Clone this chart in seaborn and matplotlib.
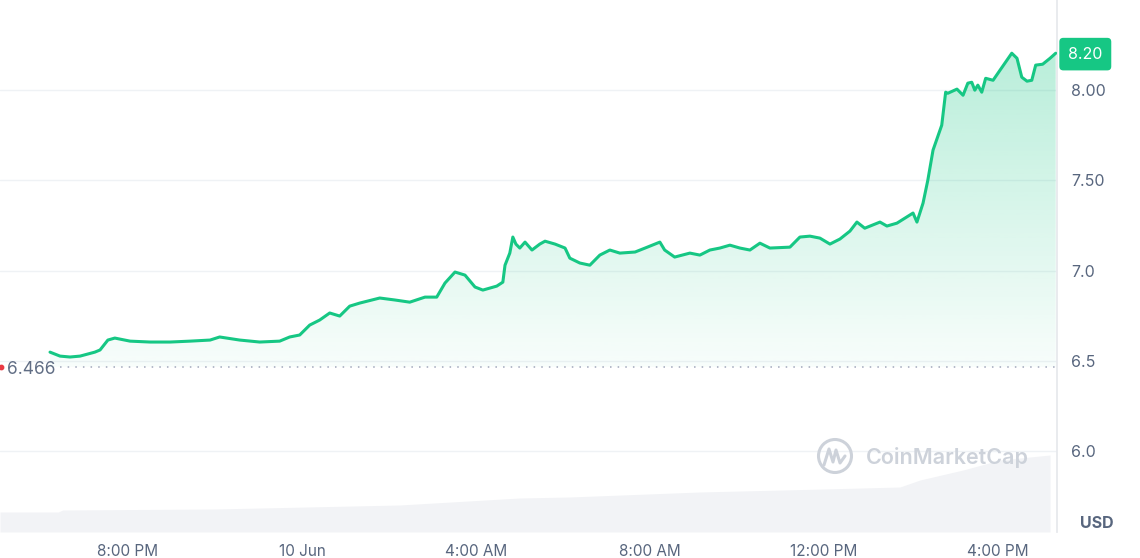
import numpy as np
import matplotlib.pyplot as plt
import matplotlib.transforms as mtransforms
from matplotlib.colors import LinearSegmentedColormap
from matplotlib.patches import Circle
import seaborn as sns

# Price data (hours relative to 10 Jun 00:00, price in USD)
hours = [-5.79, -5.56, -5.33, -5.10, -4.76, -4.64, -4.46, -4.30, -3.95, -3.49,
         -3.03, -2.57, -2.11, -1.89, -1.43, -0.97, -0.51, -0.28, -0.05, 0.18,
         0.41, 0.64, 0.87, 1.10, 1.33, 1.79, 2.14, 2.48, 2.83, 3.10,
         3.29, 3.52, 3.75, 3.98, 4.16, 4.32, 4.48, 4.62, 4.67, 4.78,
         4.85, 4.92, 5.01, 5.13, 5.29, 5.47, 5.59, 5.82, 6.05, 6.16,
         6.39, 6.62, 6.85, 7.08, 7.31, 7.66, 7.89, 8.23, 8.34, 8.57,
         8.92, 9.15, 9.38, 9.61, 9.84, 10.07, 10.30, 10.53, 10.76, 11.22,
         11.45, 11.68, 11.91, 12.14, 12.37, 12.60, 12.76, 12.94, 13.29, 13.45,
         13.68, 14.05, 14.14, 14.28, 14.39, 14.51, 14.71, 14.80, 14.85, 15.06,
         15.20, 15.31, 15.40, 15.47, 15.54, 15.63, 15.72, 15.89, 16.05, 16.32,
         16.44, 16.55, 16.67, 16.78, 16.87, 17.03, 17.20, 17.33]
price = [6.548, 6.526, 6.521, 6.526, 6.548, 6.560, 6.615, 6.626, 6.609, 6.604,
         6.604, 6.609, 6.615, 6.632, 6.615, 6.604, 6.609, 6.632, 6.643, 6.698,
         6.726, 6.765, 6.748, 6.803, 6.820, 6.848, 6.837, 6.825, 6.853, 6.853,
         6.931, 6.992, 6.975, 6.909, 6.892, 6.903, 6.914, 6.936, 7.030, 7.097,
         7.186, 7.147, 7.125, 7.158, 7.114, 7.147, 7.163, 7.147, 7.125, 7.069,
         7.042, 7.030, 7.086, 7.114, 7.097, 7.103, 7.125, 7.158, 7.114, 7.075,
         7.097, 7.086, 7.114, 7.125, 7.141, 7.125, 7.114, 7.152, 7.125, 7.130,
         7.186, 7.191, 7.180, 7.147, 7.175, 7.219, 7.269, 7.235, 7.269, 7.247,
         7.263, 7.319, 7.269, 7.374, 7.501, 7.668, 7.806, 7.989, 7.983, 8.006,
         7.972, 8.039, 8.044, 8.000, 8.028, 7.989, 8.066, 8.055, 8.111, 8.205,
         8.177, 8.072, 8.050, 8.055, 8.139, 8.144, 8.177, 8.205]

# Volume (relative, arbitrary units)
vol_hours = [-6.94, -5.60, -5.50, -2.00, 2.25, 5.01, 6.16, 9.15, 12.00, 13.75, 14.21, 15.20, 16.05, 17.20]
volume = [10.0, 10.0, 11.0, 11.5, 13.5, 17.0, 17.5, 20.0, 21.5, 22.5, 26.0, 31.0, 36.0, 38.5]

x_ticks = [-4, 0, 4, 8, 12, 16]
x_labels = ['8:00 PM', '10 Jun', '4:00 AM', '8:00 AM', '12:00 PM', '4:00 PM']
y_ticks = [6.0, 6.5, 7.0, 7.5, 8.0]
y_labels = ['6.0', '6.5', '7.0', '7.50', '8.00']
open_price = 6.466
last_price = 8.20

sns.set_theme(style='white')
plt.rcParams['font.family'] = ['Inter', 'DejaVu Sans']

green = '#16c784'
grey_txt = '#58667e'

fig = plt.figure(figsize=(11.4, 5.58), dpi=100)
ax = fig.add_axes([0, 0.0466, 0.9272, 0.9534])
ax.set_xlim(-6.94, 17.36)
ax.set_ylim(5.551, 8.5)

# volume on a hidden twin axis behind the price
vax = ax.twinx()
vax.set_ylim(0, 266)
vax.fill_between(vol_hours, volume, color='#f2f3f6', lw=0)
vax.set_yticks([])
for s in vax.spines.values():
    s.set_visible(False)
ax.set_zorder(vax.get_zorder() + 1)
ax.patch.set_visible(False)

# gridlines
ax.set_yticks(y_ticks, y_labels)
ax.yaxis.grid(True, color='#eff2f5', lw=1)
ax.xaxis.grid(False)
ax.set_xticks(x_ticks, x_labels)

# gradient fill between the price line and the opening price
poly = ax.fill_between(hours, price, open_price, facecolor='none', lw=0)
cmap = LinearSegmentedColormap.from_list('g', [(22/255, 199/255, 132/255, 0.03),
                                               (22/255, 199/255, 132/255, 0.30)])
grad = np.linspace(0, 1, 256).reshape(-1, 1)
im = ax.imshow(grad, cmap=cmap, aspect='auto', origin='lower',
               extent=[hours[0], hours[-1], open_price, max(price)], zorder=1)
im.set_clip_path(poly.get_paths()[0], transform=ax.transData)

sns.lineplot(x=hours, y=price, ax=ax, color=green, lw=2.2, zorder=3)

# opening price reference
ax.hlines(open_price, hours[1], hours[-1], colors='#a1a7bb', lw=1.1,
          linestyles=(0, (1, 4)), zorder=2)
ax.text(0.007, open_price - 0.012, f'{open_price:.3f}', transform=mtransforms.blended_transform_factory(ax.transAxes, ax.transData),
        ha='left', va='center', fontsize=12.5, color='#616e85')
ax.scatter([-6.92], [open_price], s=10, color='#ea3943', zorder=4, clip_on=True)

# last price badge
ax.text(1.0105, last_price, f'{last_price:.2f}',
        transform=mtransforms.blended_transform_factory(ax.transAxes, ax.transData),
        ha='left', va='center', fontsize=11.5, color='white',
        bbox=dict(boxstyle='round,pad=0.55,rounding_size=0.25', fc=green, ec='none'),
        clip_on=False, zorder=5)

# axes styling
for name in ['top', 'left', 'bottom']:
    ax.spines[name].set_visible(False)
ax.spines['right'].set_color('#e6e8ec')
ax.yaxis.tick_right()
ax.tick_params(axis='y', length=0, pad=10, labelsize=11.5, labelcolor=grey_txt)
ax.tick_params(axis='x', length=0, pad=9, labelsize=11, labelcolor=grey_txt)

fig.text(1097 / 1140, 1 - 524 / 558, 'USD', ha='center', va='center',
         fontsize=11.5, weight='bold', color=grey_txt)

# watermark
fig.patches.append(Circle((8.35, 1.02), 0.165, transform=fig.dpi_scale_trans,
                          fill=False, ec='#cdd2da', lw=2.2))
wx = [8.24, 8.29, 8.33, 8.36, 8.40, 8.45]
wy = [0.93, 1.09, 0.96, 1.08, 0.95, 1.02]
fig.lines.append(plt.Line2D(wx, wy, transform=fig.dpi_scale_trans, color='#cdd2da', lw=2.2))
fig.text(8.66 / 11.4, 1.01 / 5.58, 'CoinMarketCap', ha='left', va='center',
         fontsize=15.5, weight='semibold', color='#cdd2da')

fig.savefig('out.png', dpi=100)
